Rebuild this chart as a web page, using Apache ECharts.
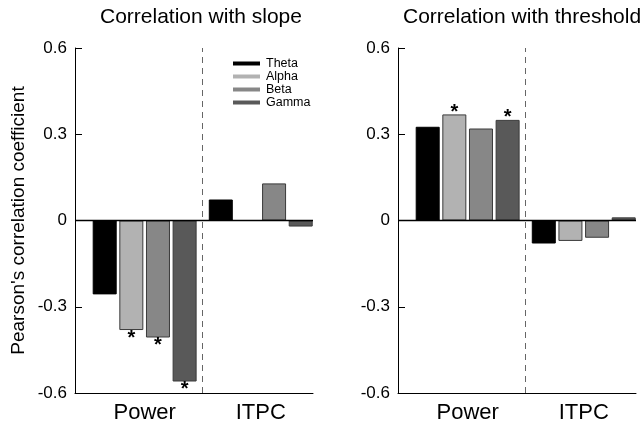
<!DOCTYPE html>
<html><head><meta charset="utf-8">
<script src="https://cdn.jsdelivr.net/npm/echarts@6/dist/echarts.min.js"></script>
<style>html,body{margin:0;padding:0;background:#fff}#c{width:641px;height:425px}</style>
</head><body><div id="c"></div>
<script>
// ---- data ----
const groups = ['Power', 'ITPC'];
const bands = ['Theta', 'Alpha', 'Beta', 'Gamma'];
const bandColors = ['#000000', '#b2b2b2', '#878787', '#595959'];
const yTicks = [-0.6, -0.3, 0, 0.3, 0.6];
// correlation with slope (Power, ITPC)
const slopeTheta = [-0.257, 0.073];
const slopeAlpha = [-0.381, 0.0];
const slopeBeta  = [-0.407, 0.129];
const slopeGamma = [-0.560, -0.021];
// correlation with threshold (Power, ITPC)
const thrTheta = [0.326, -0.080];
const thrAlpha = [0.369, -0.071];
const thrBeta  = [0.320, -0.060];
const thrGamma = [0.350, 0.011];
// significance markers (band@group)
const slopeStars = ['Alpha@Power', 'Beta@Power', 'Gamma@Power'];
const thrStars = ['Alpha@Power', 'Gamma@Power'];
const titles = ['Correlation with slope', 'Correlation with threshold'];
const yName = "Pearson's correlation coefficient";

const FONT = "'Liberation Sans', Arial, sans-serif";
const slopeSets = [slopeTheta, slopeAlpha, slopeBeta, slopeGamma];
const thrSets = [thrTheta, thrAlpha, thrBeta, thrGamma];

function makeData(vals, band, stars) {
  return vals.map((v, i) => {
    const star = stars.indexOf(band + '@' + groups[i]) >= 0;
    return {
      value: [i, v],
      label: {
        show: star,
        position: v < 0 ? 'bottom' : 'top',
        distance: v < 0 ? -2 : -8,
        formatter: '*',
        fontSize: 20,
        fontWeight: 'bold',
        color: '#000',
        fontFamily: FONT
      }
    };
  });
}

const series = [];
[slopeSets, thrSets].forEach((sets, p) => {
  const stars = p === 0 ? slopeStars : thrStars;
  sets.forEach((vals, b) => {
    series.push({
      name: bands[b],
      type: 'bar',
      xAxisIndex: p,
      yAxisIndex: p,
      barWidth: 24,
      barGap: '11%',
      itemStyle: { color: bandColors[b], borderColor: b === 0 ? '#000' : '#3a3a3a', borderWidth: 1 },
      data: makeData(vals, bands[b], stars),
      animation: false
    });
  });
  // reference lines: group divider (between group 0 and 1) and zero line
  series.push({
    name: 'ref' + p,
    type: 'line',
    xAxisIndex: p,
    yAxisIndex: p,
    data: [],
    silent: true,
    z: 5,
    markLine: {
      silent: true,
      symbol: 'none',
      label: { show: false },
      animation: false,
      data: [
        { xAxis: 0.5, lineStyle: { type: [6, 5], color: '#666', width: 1 } },
        { yAxis: 0, lineStyle: { type: 'solid', color: '#000', width: 1.3 } }
      ]
    }
  });
});

function yAxisOpt(idx, withName) {
  return {
    type: 'value',
    gridIndex: idx,
    min: yTicks[0],
    max: yTicks[yTicks.length - 1],
    interval: 0.3,
    name: withName ? yName : '',
    nameLocation: 'middle',
    nameGap: 47,
    nameTextStyle: { fontSize: 19, color: '#000', fontFamily: FONT },
    axisLine: { show: true, onZero: false, lineStyle: { color: '#000', width: 1 } },
    axisTick: { show: true, inside: true, length: 7, lineStyle: { color: '#000' } },
    axisLabel: {
      fontSize: 17, color: '#000', fontFamily: FONT, margin: 8,
      formatter: v => (Math.abs(v) < 1e-9 ? '0' : v.toFixed(1))
    },
    splitLine: { show: false }
  };
}
function xAxisOpt(idx) {
  return {
    type: 'value',
    gridIndex: idx,
    min: -0.6,
    max: 1.45,
    axisLine: { show: true, onZero: false, lineStyle: { color: '#000', width: 1 } },
    axisTick: { show: false },
    axisLabel: {
      customValues: [0, 1],
      fontSize: 22, color: '#000', fontFamily: FONT, margin: 9,
      formatter: v => groups[Math.round(v)] || ''
    },
    splitLine: { show: false }
  };
}

const chart = echarts.init(document.getElementById('c'), null, { renderer: 'canvas' });
chart.setOption({
  animation: false,
  backgroundColor: '#fff',
  textStyle: { fontFamily: FONT },
  title: [
    { text: titles[0], left: 100, top: 7, padding: 0, textStyle: { fontSize: 21, fontWeight: 'normal', color: '#000', fontFamily: FONT } },
    { text: titles[1], left: 403, top: 7, padding: 0, textStyle: { fontSize: 21, fontWeight: 'normal', color: '#000', fontFamily: FONT } }
  ],
  legend: {
    data: bands,
    orient: 'vertical',
    left: 233,
    top: 57,
    padding: 0,
    itemGap: 0,
    itemWidth: 27,
    itemHeight: 4,
    icon: 'rect',
    selectedMode: false,
    itemStyle: { borderWidth: 0 },
    textStyle: { fontSize: 12.5, color: '#000', fontFamily: FONT, lineHeight: 12.3, padding: [0, 0, 0, 1] }
  },
  grid: [
    { left: 75, top: 48, width: 238, height: 345 },
    { left: 398, top: 48, width: 238, height: 345 }
  ],
  xAxis: [xAxisOpt(0), xAxisOpt(1)],
  yAxis: [yAxisOpt(0, true), yAxisOpt(1, false)],
  series: series
});
</script>
</body></html>
